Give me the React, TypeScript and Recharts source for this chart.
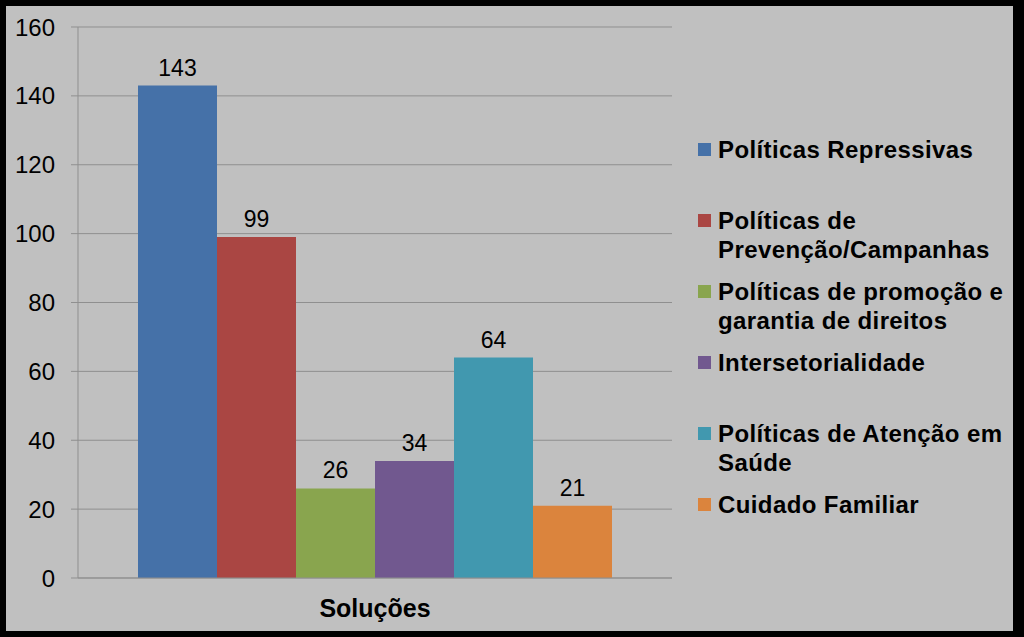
import React from "react";
import { BarChart, Bar, XAxis, YAxis, CartesianGrid, LabelList } from "recharts";

const categories = ["Soluções"];
const seriesKeys = ["s0", "s1", "s2", "s3", "s4", "s5"];
const seriesNames = [
  "Políticas Repressivas",
  "Políticas de\nPrevenção/Campanhas",
  "Políticas de promoção e\ngarantia de direitos",
  "Intersetorialidade",
  "Políticas de Atenção em\nSaúde",
  "Cuidado Familiar",
];
const seriesValues = [143, 99, 26, 34, 64, 21];
const seriesColors = ["#4571A8", "#AA4643", "#89A54E", "#71588F", "#4198AF", "#DB843D"];
const yTicks = [0, 20, 40, 60, 80, 100, 120, 140, 160];

const data = categories.map((c) => {
  const row: Record<string, string | number> = { category: c };
  seriesKeys.forEach((k, i) => {
    row[k] = seriesValues[i];
  });
  return row;
});

const FONT = "'Liberation Sans', Arial, sans-serif";

const CustomLegend = () => (
  <div style={{ position: "absolute", left: 692, top: 129, fontFamily: FONT }}>
    {seriesNames.map((name, i) => (
      <div key={i} style={{ position: "relative", height: 71, paddingLeft: 20 }}>
        <div
          style={{
            position: "absolute",
            left: 0,
            top: 8,
            width: 13,
            height: 13,
            background: seriesColors[i],
          }}
        />
        <div
          style={{
            fontSize: 24,
            fontWeight: "bold",
            lineHeight: "29px",
            letterSpacing: 0.4,
            color: "#000",
            whiteSpace: "pre",
          }}
        >
          {name}
        </div>
      </div>
    ))}
  </div>
);

export default function App() {
  return (
    <div style={{ position: "absolute", left: 0, top: 0, width: 1024, height: 637, background: "#000" }}>
      <div style={{ position: "absolute", left: 6, top: 6, width: 1007, height: 625, background: "#c0c0c0" }}>
        <BarChart
          width={1007}
          height={625}
          data={data}
          margin={{ top: 21, right: 341, left: 0, bottom: 13 }}
          barCategoryGap={60}
          barGap={0}
        >
          <CartesianGrid vertical={false} stroke="#8f8f8f" strokeWidth={1} />
          <XAxis
            dataKey="category"
            axisLine={{ stroke: "#8f8f8f" }}
            tickLine={false}
            tickSize={0}
            tickMargin={21}
            height={40}
            tick={{ fontSize: 25, fontWeight: "bold", fill: "#000", fontFamily: FONT }}
          />
          <YAxis
            width={72}
            domain={[0, 160]}
            ticks={yTicks}
            interval={0}
            axisLine={{ stroke: "#8f8f8f" }}
            tickLine={{ stroke: "#8f8f8f" }}
            tickSize={7}
            tickMargin={16}
            tick={{ fontSize: 24, fill: "#000", fontFamily: FONT }}
          />
          {seriesKeys.map((k, i) => (
            <Bar
              key={k}
              dataKey={k}
              name={seriesNames[i]}
              fill={seriesColors[i]}
              isAnimationActive={false}
            >
              <LabelList
                dataKey={k}
                position="top"
                offset={10}
                style={{ fontSize: 23, fill: "#000", fontFamily: FONT }}
              />
            </Bar>
          ))}
        </BarChart>
        <CustomLegend />
      </div>
    </div>
  );
}
